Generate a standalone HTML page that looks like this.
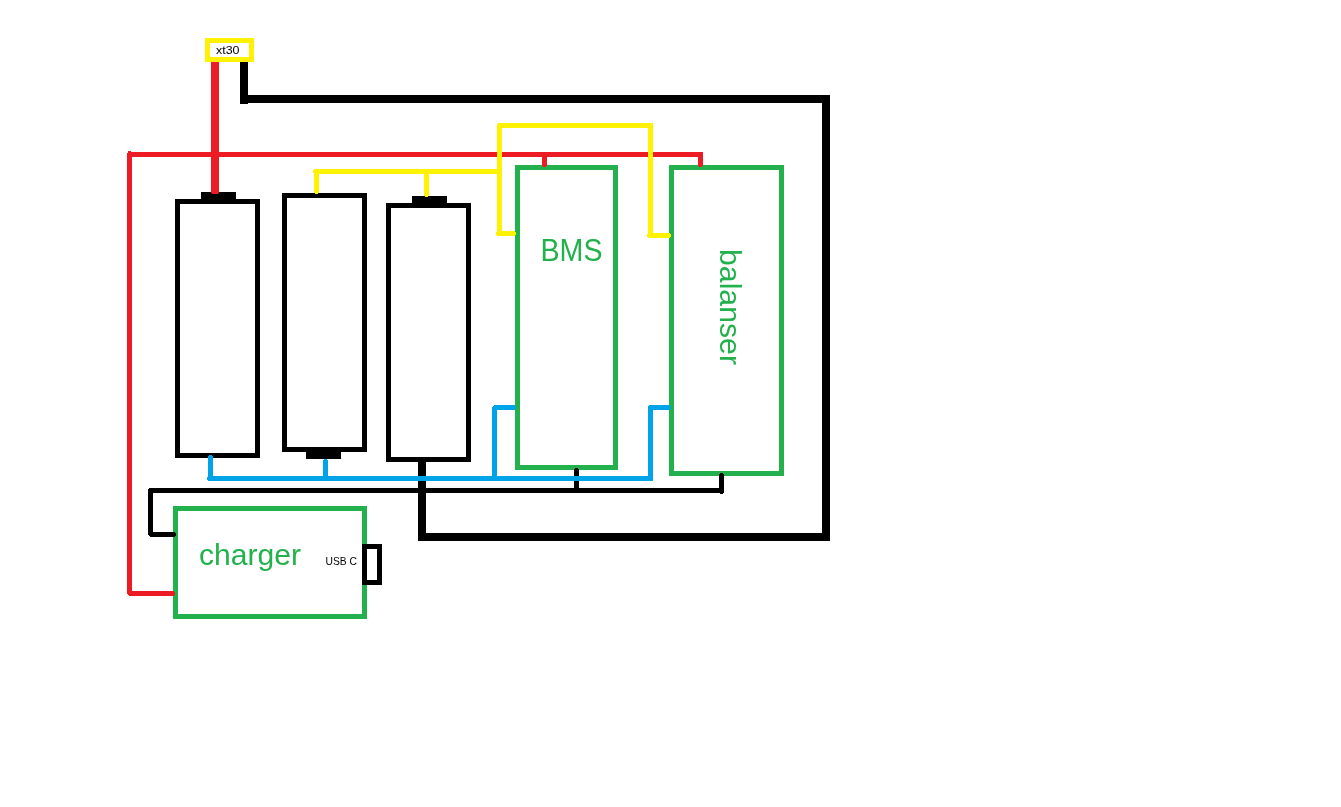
<!DOCTYPE html>
<html lang="en">
<head>
<meta charset="utf-8">
<title>battery pack wiring</title>
<style>
html,body{margin:0;padding:0;background:#ffffff;}
body{width:1341px;height:807px;overflow:hidden;}
svg{display:block;will-change:transform;}
text{font-family:"Liberation Sans",sans-serif;}
.big{font-size:30px;fill:#22b14c;}
.small{font-size:11px;fill:#000000;}
</style>
</head>
<body>
<svg width="1341" height="807" viewBox="0 0 1341 807">
<rect x="0" y="0" width="1341" height="807" fill="#ffffff"/>
<g shape-rendering="crispEdges">
<!-- thick black negative lead -->
<rect x="240" y="62" width="8" height="42" fill="#000000"/>
<rect x="240" y="95" width="590" height="8" fill="#000000"/>
<rect x="822" y="95" width="8" height="446" fill="#000000"/>
<rect x="418" y="533" width="412" height="8" fill="#000000"/>
<rect x="418" y="462" width="8" height="79" fill="#000000"/>
<!-- batteries -->
<rect x="175" y="199" width="85" height="5" fill="#000000"/>
<rect x="175" y="453" width="85" height="5" fill="#000000"/>
<rect x="175" y="199" width="5" height="259" fill="#000000"/>
<rect x="255" y="199" width="5" height="259" fill="#000000"/>
<rect x="201" y="192" width="35" height="7" fill="#000000"/>
<rect x="282" y="193" width="85" height="5" fill="#000000"/>
<rect x="282" y="447" width="85" height="5" fill="#000000"/>
<rect x="282" y="193" width="5" height="259" fill="#000000"/>
<rect x="362" y="193" width="5" height="259" fill="#000000"/>
<rect x="306" y="452" width="35" height="7" fill="#000000"/>
<rect x="386" y="203" width="85" height="5" fill="#000000"/>
<rect x="386" y="457" width="85" height="5" fill="#000000"/>
<rect x="386" y="203" width="5" height="259" fill="#000000"/>
<rect x="466" y="203" width="5" height="259" fill="#000000"/>
<rect x="412" y="196" width="35" height="7" fill="#000000"/>
<!-- green modules -->
<rect x="515" y="165" width="103" height="5" fill="#22b14c"/>
<rect x="515" y="465" width="103" height="5" fill="#22b14c"/>
<rect x="515" y="165" width="5" height="305" fill="#22b14c"/>
<rect x="613" y="165" width="5" height="305" fill="#22b14c"/>
<rect x="669" y="165" width="115" height="5" fill="#22b14c"/>
<rect x="669" y="471" width="115" height="5" fill="#22b14c"/>
<rect x="669" y="165" width="5" height="311" fill="#22b14c"/>
<rect x="779" y="165" width="5" height="311" fill="#22b14c"/>
<rect x="173" y="506" width="194" height="5" fill="#22b14c"/>
<rect x="173" y="614" width="194" height="5" fill="#22b14c"/>
<rect x="173" y="506" width="5" height="113" fill="#22b14c"/>
<rect x="362" y="506" width="5" height="113" fill="#22b14c"/>
<!-- usb port -->
<rect x="362" y="544" width="20" height="5" fill="#000000"/>
<rect x="362" y="580" width="20" height="5" fill="#000000"/>
<rect x="362" y="544" width="5" height="41" fill="#000000"/>
<rect x="377" y="544" width="5" height="41" fill="#000000"/>
<!-- red positive -->
<rect x="211" y="62" width="8" height="131" fill="#ed1c24"/>
<rect x="212" y="193" width="6" height="1" fill="#ed1c24"/>
<rect x="128" y="152" width="575" height="5" fill="#ed1c24"/>
<rect x="127" y="153" width="5" height="441" fill="#ed1c24"/>
<rect x="128" y="151" width="3" height="1" fill="#ed1c24"/>
<rect x="128" y="594" width="4" height="1" fill="#ed1c24"/>
<rect x="129" y="591" width="45" height="5" fill="#ed1c24"/>
<rect x="174" y="592" width="1" height="3" fill="#ed1c24"/>
<rect x="542" y="157" width="5" height="9" fill="#ed1c24"/>
<rect x="543" y="166" width="3" height="1" fill="#ed1c24"/>
<rect x="698" y="152" width="5" height="14" fill="#ed1c24"/>
<rect x="699" y="166" width="3" height="1" fill="#ed1c24"/>
<!-- yellow balance leads -->
<rect x="205" y="38" width="49" height="5" fill="#fff200"/>
<rect x="205" y="57" width="49" height="5" fill="#fff200"/>
<rect x="205" y="38" width="5" height="24" fill="#fff200"/>
<rect x="249" y="38" width="5" height="24" fill="#fff200"/>
<rect x="314" y="169" width="188" height="5" fill="#fff200"/>
<rect x="313" y="170" width="1" height="3" fill="#fff200"/>
<rect x="314" y="169" width="5" height="24" fill="#fff200"/>
<rect x="315" y="193" width="3" height="1" fill="#fff200"/>
<rect x="424" y="174" width="5" height="22" fill="#fff200"/>
<rect x="425" y="196" width="3" height="1" fill="#fff200"/>
<rect x="497" y="124" width="5" height="112" fill="#fff200"/>
<rect x="498" y="123" width="155" height="5" fill="#fff200"/>
<rect x="497" y="231" width="18" height="5" fill="#fff200"/>
<rect x="496" y="232" width="1" height="3" fill="#fff200"/>
<rect x="515" y="232" width="1" height="3" fill="#fff200"/>
<rect x="648" y="123" width="5" height="115" fill="#fff200"/>
<rect x="648" y="233" width="22" height="5" fill="#fff200"/>
<rect x="647" y="234" width="1" height="3" fill="#fff200"/>
<rect x="670" y="234" width="1" height="3" fill="#fff200"/>
<!-- thin black -->
<rect x="149" y="488" width="575" height="5" fill="#000000"/>
<rect x="148" y="489" width="5" height="46" fill="#000000"/>
<rect x="149" y="535" width="4" height="1" fill="#000000"/>
<rect x="150" y="532" width="25" height="5" fill="#000000"/>
<rect x="175" y="533" width="1" height="3" fill="#000000"/>
<rect x="574" y="469" width="5" height="24" fill="#000000"/>
<rect x="575" y="468" width="3" height="1" fill="#000000"/>
<rect x="719" y="474" width="5" height="19" fill="#000000"/>
<rect x="720" y="473" width="3" height="1" fill="#000000"/>
<rect x="720" y="493" width="3" height="1" fill="#000000"/>
<!-- blue -->
<rect x="208" y="476" width="445" height="5" fill="#00a2e8"/>
<rect x="207" y="477" width="1" height="3" fill="#00a2e8"/>
<rect x="208" y="456" width="5" height="25" fill="#00a2e8"/>
<rect x="209" y="455" width="3" height="1" fill="#00a2e8"/>
<rect x="323" y="460" width="5" height="21" fill="#00a2e8"/>
<rect x="324" y="459" width="3" height="1" fill="#00a2e8"/>
<rect x="492" y="407" width="5" height="74" fill="#00a2e8"/>
<rect x="493" y="406" width="4" height="1" fill="#00a2e8"/>
<rect x="494" y="405" width="21" height="5" fill="#00a2e8"/>
<rect x="515" y="406" width="1" height="3" fill="#00a2e8"/>
<rect x="648" y="406" width="5" height="75" fill="#00a2e8"/>
<rect x="649" y="405" width="21" height="5" fill="#00a2e8"/>
<rect x="670" y="406" width="1" height="3" fill="#00a2e8"/>
</g>
<text class="small" x="216" y="54" textLength="23.5" lengthAdjust="spacingAndGlyphs">xt30</text>
<text class="small" x="325.5" y="565" textLength="31.5" lengthAdjust="spacingAndGlyphs">USB C</text>
<text class="big" style="font-size:31px" x="540.5" y="261" textLength="62" lengthAdjust="spacingAndGlyphs">BMS</text>
<text class="big" x="199" y="565" textLength="102" lengthAdjust="spacingAndGlyphs">charger</text>
<text class="big" transform="translate(719.5 249) rotate(90)" x="0" y="0" textLength="116" lengthAdjust="spacingAndGlyphs">balanser</text>
</svg>
</body>
</html>
